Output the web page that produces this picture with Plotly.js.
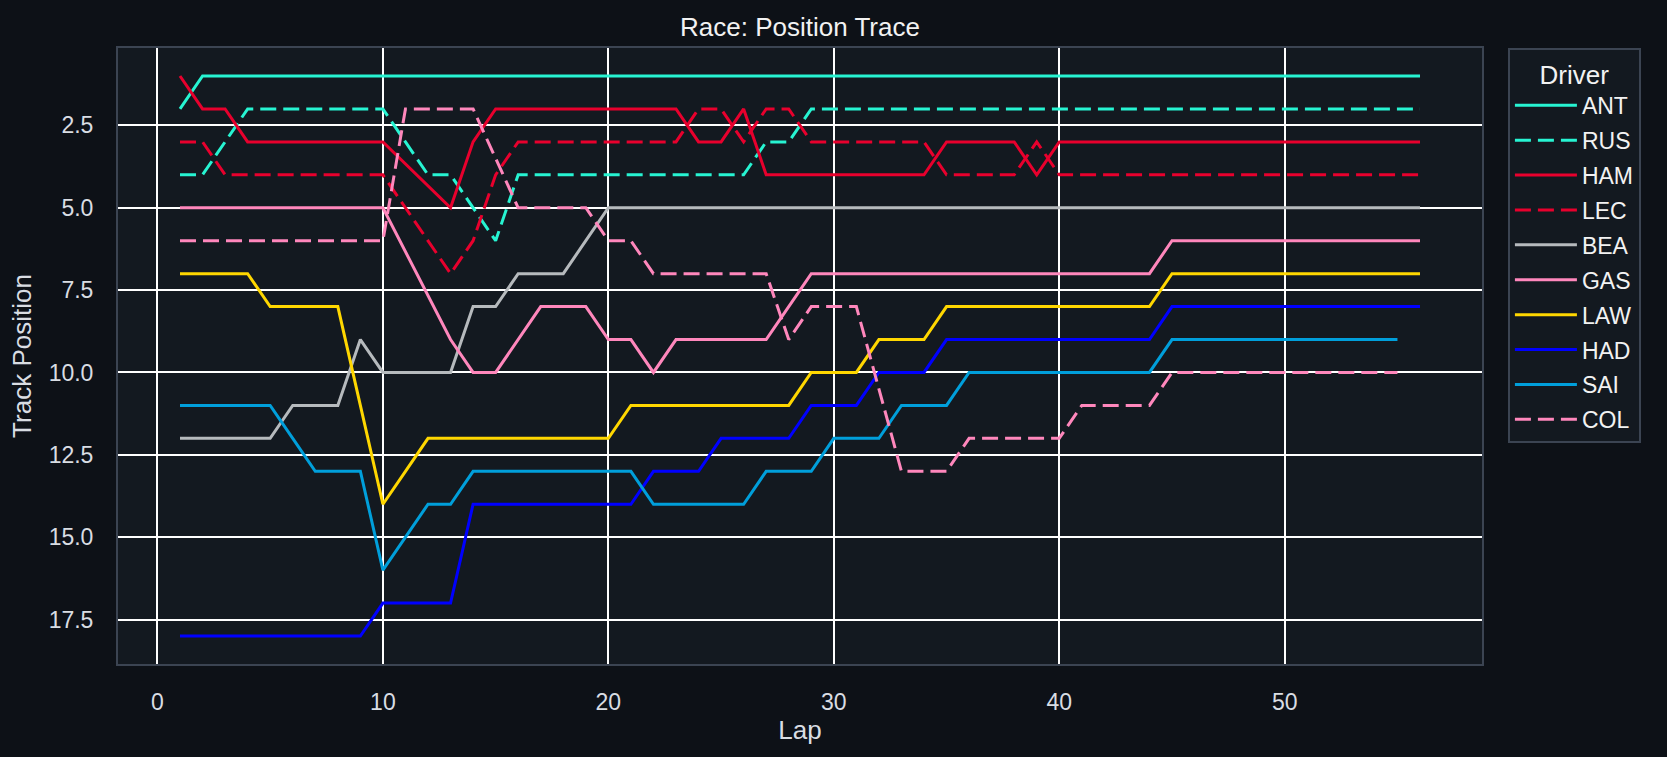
<!DOCTYPE html>
<html>
<head>
<meta charset="utf-8">
<script src="https://cdn.plot.ly/plotly-3.0.1.min.js"></script>
<style>
  html, body { margin: 0; padding: 0; background: #0d1117; }
  #myDiv { width: 1667px; height: 757px; }
</style>
</head>
<body>
<div id="myDiv"></div>
<script>
"use strict";

// laps 1..56, null = no position recorded for that lap
const laps = [];
for (let i = 1; i <= 56; i++) laps.push(i);

const drivers = ["ANT", "RUS", "HAM", "LEC", "BEA", "GAS", "LAW", "HAD", "SAI", "COL"];

const ANT = [2, 1,1,1,1,1,1,1,1,1, 1,1,1,1,1,1,1,1,1,1, 1,1,1,1,1,1,1,1,1,1,
             1,1,1,1,1,1,1,1,1,1, 1,1,1,1,1,1,1,1,1,1, 1,1,1,1,1,1];
const RUS = [4,4,3,2,2,2,2,2,2,2, 3,4,4,5,6,4,4,4,4,4, 4,4,4,4,4,4,3,3,2,2,
             2,2,2,2,2,2,2,2,2,2, 2,2,2,2,2,2,2,2,2,2, 2,2,2,2,2,2];
const HAM = [1,2,2,3,3,3,3,3,3,3, null,null,5,3,2,2,2,2,2,2, 2,2,2,3,3,2,4,4,4,4,
             4,4,4,4,3,3,3,3,4,3, 3,3,3,3,3,3,3,3,3,3, 3,3,3,3,3,3];
const LEC = [3,3,4,4,4,4,4,4,4,4, 5,6,7,6,4,3,3,3,3,3, 3,3,3,2,2,3,2,2,3,3,
             3,3,3,3,4,4,4,4,3,4, 4,4,4,4,4,4,4,4,4,4, 4,4,4,4,4,4];
const BEA = [12,12,12,12,12,11,11,11,9,10, 10,10,10,8,8,7,7,7,6,5, 5,5,5,5,5,5,5,5,5,5,
             5,5,5,5,5,5,5,5,5,5, 5,5,5,5,5,5,5,5,5,5, 5,5,5,5,5,5];
const GAS = [5,5,5,5,5,5,5,5,5,5, null,null,9,10,10,9,8,8,8,9, 9,10,9,9,9,9,9,8,7,7,
             7,7,7,7,7,7,7,7,7,7, 7,7,7,7,6,6,6,6,6,6, 6,6,6,6,6,6];
const LAW = [7,7,7,7,8,8,8,8,11,14, 13,12,12,12,12,12,12,12,12,12, 11,11,11,11,11,11,11,11,10,10,
             10,9,9,9,8,8,8,8,8,8, 8,8,8,8,7,7,7,7,7,7, 7,7,7,7,7,7];
const HAD = [18,18,18,18,18,18,18,18,18,17, 17,17,17,14,14,14,14,14,14,14, 14,13,13,13,12,12,12,12,11,11,
             11,10,10,10,9,9,9,9,9,9, 9,9,9,9,8,8,8,8,8,8, 8,8,8,8,8,8];
const SAI = [11,11,11,11,11,12,13,13,13,16, 15,14,14,13,13,13,13,13,13,13, 13,14,14,14,14,14,13,13,13,12,
             12,12,11,11,11,10,10,10,10,10, 10,10,10,10,9,9,9,9,9,9, 9,9,9,9,9];
const COL = [6,6,6,6,6,6,6,6,6,6, 2,2,2,2,null,5,5,5,5,6, 6,7,7,7,7,7,7,9,8,8,
             8,null,13,13,13,12,12,12,12,12, 11,11,11,11,10,10,10,10,10,10, 10,10,10,10,10];

const positions = [ANT, RUS, HAM, LEC, BEA, GAS, LAW, HAD, SAI, COL];
const colors = ["#27f4d2", "#27f4d2", "#e8002d", "#e8002d", "#b6babd",
                "#ff87bc", "#ffd700", "#0000ff", "#009fdb", "#ff87bc"];
const dashed = [false, true, false, true, false, false, false, false, false, true];

const xTicks = [0, 10, 20, 30, 40, 50];

const FONT = "Liberation Sans, Arial, sans-serif";
const TEXT = "#d9dde3";

function buildTraces() {
    let data = [];
    for (let i = 0; i < drivers.length; i++) {
        let pos = positions[i];
        data.push({
            x: laps.slice(0, pos.length),
            y: pos,
            name: drivers[i],
            legendgroup: drivers[i],
            type: "scatter",
            mode: "lines",
            connectgaps: true,
            line: {
                color: colors[i],
                width: 3,
                dash: dashed[i] ? "16px,7px" : "solid"
            }
        });
    }
    return data;
}

const layout = {
    width: 1667,
    height: 757,
    paper_bgcolor: "#0d1117",
    plot_bgcolor: "#131920",
    margin: { l: 118, r: 185, t: 48, b: 93 },
    font: { family: FONT, color: TEXT, size: 23 },
    title: {
        text: "Race: Position Trace",
        font: { family: FONT, size: 26, color: "#f2f2f2" },
        x: 0.5, xref: "paper",
        y: 0.964, yref: "container", yanchor: "middle"
    },
    xaxis: {
        range: [-1.75, 58.75],
        tickmode: "array",
        tickvals: xTicks,
        ticktext: xTicks.map(String),
        showgrid: true,
        gridcolor: "#ffffff",
        gridwidth: 2,
        zeroline: false,
        showline: true,
        mirror: true,
        linecolor: "#3b4452",
        linewidth: 2,
        ticks: "",
        ticklabelstandoff: 16,
        tickfont: { size: 23, color: TEXT },
        title: { text: "Lap", font: { size: 26, color: TEXT }, standoff: 7 }
    },
    yaxis: {
        range: [18.85, 0.15],
        tick0: 0,
        dtick: 2.5,
        tickformat: ".1f",
        showgrid: true,
        gridcolor: "#ffffff",
        gridwidth: 2,
        zeroline: false,
        showline: true,
        mirror: true,
        linecolor: "#3b4452",
        linewidth: 2,
        ticks: "",
        ticklabelstandoff: 18,
        tickfont: { size: 23, color: TEXT },
        title: { text: "Track Position", font: { size: 26, color: TEXT }, standoff: 10 }
    },
    legend: {
        x: 1.019, xanchor: "left",
        y: 1.0, yanchor: "top",
        bgcolor: "#131920",
        bordercolor: "#3b4452",
        borderwidth: 2,
        traceorder: "grouped",
        tracegroupgap: 2,
        itemwidth: 62,
        font: { size: 23, color: "#f2f2f2" },
        title: { text: "Driver", side: "top center", font: { size: 26, color: "#f2f2f2" } }
    },
    showlegend: true
};

Plotly.newPlot("myDiv", buildTraces(), layout, { displayModeBar: false, staticPlot: true });
</script>
</body>
</html>
